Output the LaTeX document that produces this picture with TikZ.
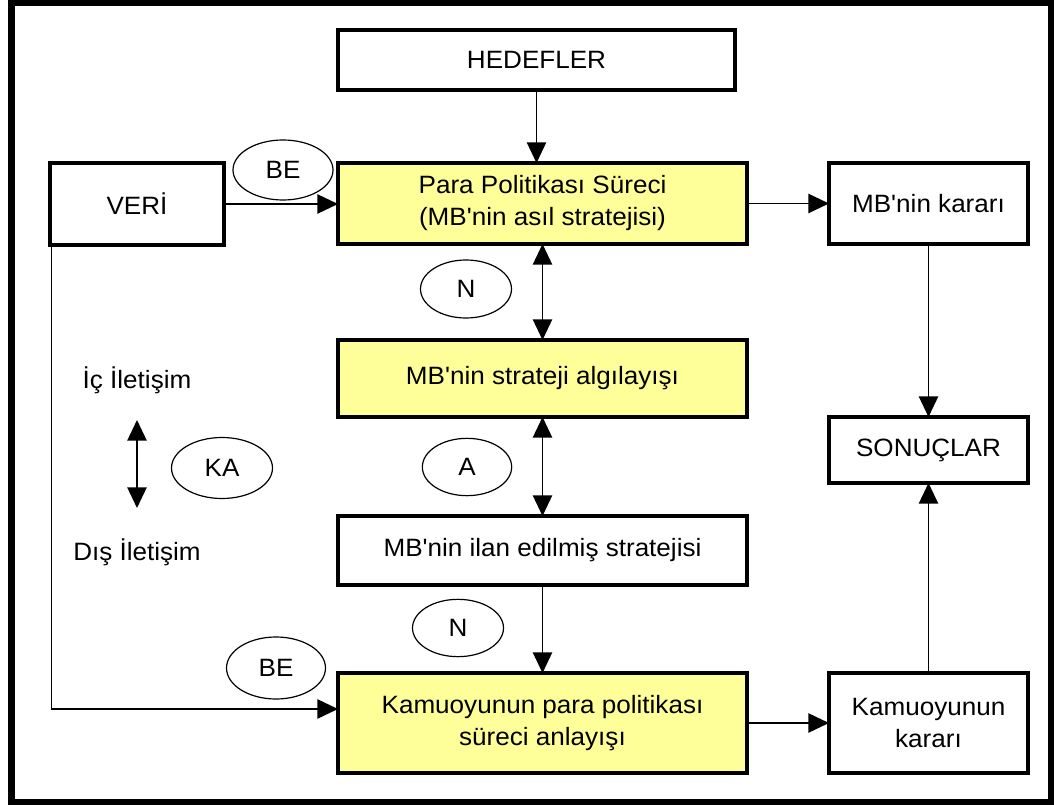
\documentclass[tikz,border=0pt]{standalone}
\usepackage{fontspec}
\setmainfont{Liberation Sans}[FakeStretch=1.04, Ligatures=TeXOff]
\usetikzlibrary{arrows.meta,shapes.geometric}
\definecolor{ylw}{HTML}{FFFF99}
\newcommand\dfont{\fontsize{18.8pt}{24pt}\selectfont}
\begin{document}
\begin{tikzpicture}[x=0.75pt,y=-0.75pt,
  box/.style={draw, line width=2.6pt, align=center, inner sep=0pt, outer sep=0pt, font=\dfont},
  ybox/.style={box, fill=ylw},
  oval/.style={draw, ellipse, line width=0.9pt, inner sep=0pt, font=\dfont},
  lbl/.style={inner sep=0pt, font=\dfont},
  conn/.style={line width=1.15pt, -{Triangle[length=15.5pt,width=14.5pt]}},
  dconn/.style={line width=1.15pt, {Triangle[length=15.5pt,width=14.5pt]}-{Triangle[length=15.5pt,width=14.5pt]}},
  plain/.style={line width=1.15pt}]
\useasboundingbox (0,0) rectangle (1059,805);
\draw[line width=5pt] (11.5,3) rectangle (1051,802.5);

% boxes
\node[box, minimum width=297.75pt, minimum height=45pt] (hed) at (536.5,60) {HEDEFLER};
\node[box, minimum width=130.5pt, minimum height=61.5pt] (veri) at (137,204) {VERİ};
\node[ybox, minimum width=306.75pt, minimum height=60.75pt] (para) at (542.5,203.5) {Para Politikası Süreci\\(MB'nin asıl stratejisi)};
\node[box, minimum width=149.25pt, minimum height=60.75pt] (mbk) at (928.5,203.5) {MB'nin kararı};
\node[ybox, minimum width=306.75pt, minimum height=57.75pt] (strat) at (542.5,378.5) {MB'nin strateji algılayışı};
\node[box, minimum width=149.25pt, minimum height=49.5pt] (son) at (928.5,450) {SONUÇLAR};
\node[box, minimum width=306.75pt, minimum height=51.75pt] (ilan) at (542.5,550.5) {MB'nin ilan edilmiş stratejisi};
\node[ybox, minimum width=306.75pt, minimum height=75pt] (kam) at (542.5,723) {Kamuoyunun para politikası\\süreci anlayışı};
\node[box, minimum width=149.25pt, minimum height=75pt] (kk) at (928.5,723) {Kamuoyunun\\kararı};

% ellipses
\node[oval, minimum width=75pt, minimum height=45pt] (be1) at (283,170) {BE};
\node[oval, minimum width=68.25pt, minimum height=43.5pt] (n1) at (466,289) {N};
\node[oval, minimum width=67pt, minimum height=43pt] (a) at (467,467) {A};
\node[oval, minimum width=68.25pt, minimum height=43pt] (n2) at (458,628) {N};
\node[oval, minimum width=74.25pt, minimum height=46.5pt] (be2) at (276,668) {BE};
\node[oval, minimum width=75.75pt, minimum height=45.75pt] (ka) at (222,468) {KA};

% side texts
\node[lbl] (ic) at (137,380) {İç İletişim};
\node[lbl] (dis) at (137,552) {Dış İletişim};
\coordinate (kat) at (137,420);
\coordinate (kab) at (137,508);

% connectors
\draw[conn] (hed.south) -- (hed.south |- para.north);
\draw[conn] (veri.east) -- (veri.east -| para.west);
\draw[conn] (para.east) -- (mbk.west);
\draw[dconn] (para.south) -- (strat.north);
\draw[dconn] (strat.south) -- (ilan.north);
\draw[conn] (ilan.south) -- (kam.north);
\draw[conn] (mbk.south) -- (son.north);
\draw[conn] (kk.north) -- (son.south);
\draw[conn] (kam.east) -- (kk.west);
\draw[dconn] (kat) -- (kab);
\coordinate (kin) at ([yshift=10.5pt]kam.west);
\draw[conn] ([xshift=1pt]veri.south west) -- ([xshift=1pt]veri.south west |- kin) -- (kin);
\end{tikzpicture}
\end{document}
